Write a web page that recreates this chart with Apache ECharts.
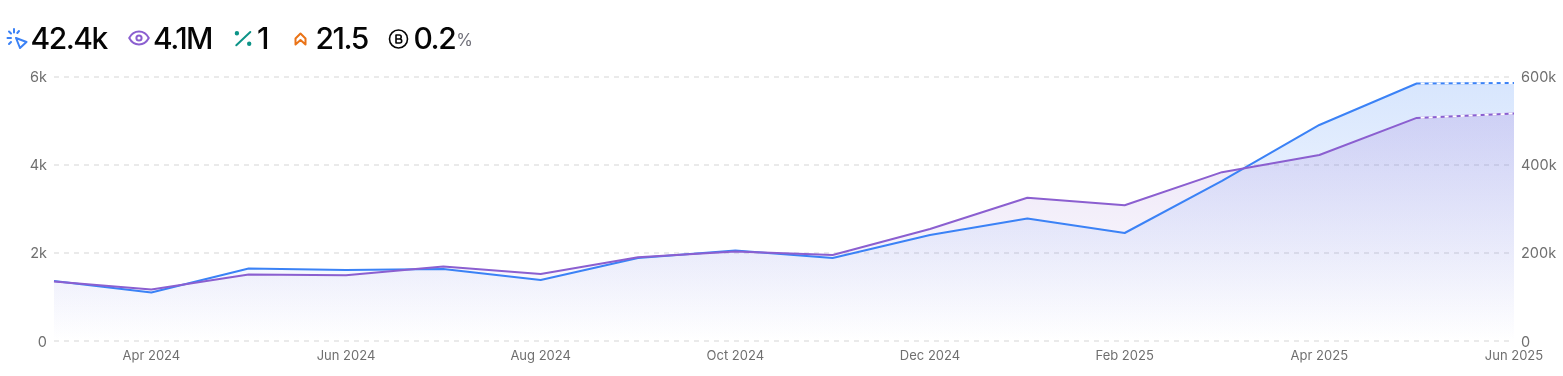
<!DOCTYPE html>
<html>
<head>
<meta charset="utf-8">
<title>Performance</title>
<script src="https://cdn.jsdelivr.net/npm/echarts@6/dist/echarts.min.js"></script>
<style>
  html, body { margin: 0; padding: 0; background: #fff; }
  #wrap { position: relative; width: 1563px; height: 376px; overflow: hidden; font-family: Inter, sans-serif; }
  #chart { position: absolute; left: 0; top: 0; width: 1563px; height: 376px; }
  .stat { position: absolute; top: 19px; height: 38px; line-height: 38px; font-size: 30px; font-weight: 500; letter-spacing: -1.5px; color: #050505; white-space: nowrap; }
  .stat small { position: relative; top: -3px; font-size: 17px; font-weight: 400; color: #71717a; letter-spacing: 0; margin-left: 1px; }
  svg.icon { position: absolute; top: 27px; width: 22px; height: 22px; fill: none; stroke-width: 2; stroke-linecap: round; stroke-linejoin: round; }
</style>
</head>
<body>
<div id="wrap">
  <div id="chart"></div>

  <svg class="icon" style="left:6px;stroke:#3b82f6" viewBox="0 0 22 22">
    <path d="M8 2v3.5M1.5 11H5M3 4.5l2 2M3 17l2-2M13 4l-1.7 2"/>
    <path d="M10 11l10.5 4-6.5 6z"/>
  </svg>
  <div class="stat" style="left:30.5px">42.4k</div>

  <svg class="icon" style="left:128px;stroke:#8b5fd0" viewBox="0 0 22 22">
    <path d="M1.2 11C3.6 6.6 7 4.6 11 4.6s7.4 2 9.8 6.4c-2.4 4.4-5.8 6.4-9.8 6.4S3.6 15.4 1.2 11z"/>
    <circle cx="11" cy="11" r="2.6"/>
  </svg>
  <div class="stat" style="left:153px">4.1M</div>

  <svg class="icon" style="left:233px;stroke:#0d9488" viewBox="0 0 22 22">
    <path d="M3.3 18.3L17.3 5"/>
    <circle cx="3.9" cy="6.3" r="1.2" fill="#0d9488"/>
    <circle cx="16.2" cy="16.8" r="1.2" fill="#0d9488"/>
  </svg>
  <div class="stat" style="left:257px">1</div>

  <svg class="icon" style="left:290px;stroke:#ea7317" viewBox="0 0 22 22">
    <path d="M5.5 17.5V11.5L10.5 6.5L15.5 11.5V17.5L10.5 13z"/>
  </svg>
  <div class="stat" style="left:315.5px">21.5</div>

  <svg class="icon" style="left:388px;stroke:#050505;stroke-width:1.6" viewBox="0 0 22 22">
    <circle cx="10.5" cy="12" r="9"/>
    <path d="M8 8h3.2a2 2 0 0 1 0 4H8zM8 12h3.7a2 2 0 0 1 0 4H8z"/>
  </svg>
  <div class="stat" style="left:413.5px">0.2<small>%</small></div>
</div>

<script>
const months = ['Mar 2024', 'Apr 2024', 'May 2024', 'Jun 2024', 'Jul 2024', 'Aug 2024', 'Sep 2024', 'Oct 2024',
  'Nov 2024', 'Dec 2024', 'Jan 2025', 'Feb 2025', 'Mar 2025', 'Apr 2025', 'May 2025', 'Jun 2025'];
// left axis
const clicks = [1361, 1100, 1645, 1610, 1633, 1384, 1883, 2053, 1883, 2405, 2779, 2450, 3630, 4900, 5841, 5853];
// right axis
const impressions = [135000, 117000, 151000, 149000, 169000, 152000, 190000, 203000, 195000, 254000, 325000, 308000, 383000, 422000, 506000, 516000];

const BLUE = '#3b82f6';
const PURPLE = '#8b5fd0';

// last month is partial: white dashes laid over the solid line
const lastSegment = vals => vals.map((v, i) => (i >= vals.length - 2 ? v : null));

function fmt(v) {
  if (v === 0) return '0';
  return v / 1000 + 'k';
}

function areaFill(r, g, b, top) {
  return new echarts.graphic.LinearGradient(0, 0, 0, 1, [
    { offset: 0, color: `rgba(${r},${g},${b},${top})` },
    { offset: 1, color: `rgba(${r},${g},${b},0)` }
  ]);
}

function mainSeries(name, data, axis, color, fill) {
  return {
    name, type: 'line', data, yAxisIndex: axis,
    symbol: 'none', smooth: false, silent: true,
    lineStyle: { color, width: 2 },
    areaStyle: { color: fill, origin: 'start', opacity: 1 }
  };
}

function dashOverlay(name, data, axis) {
  return {
    name, type: 'line', data: lastSegment(data), yAxisIndex: axis,
    symbol: 'none', silent: true,
    lineStyle: { color: '#fff', width: 2, type: [4, 4], dashOffset: 4 }
  };
}

const chart = echarts.init(document.getElementById('chart'), null, { renderer: 'canvas' });
// top align with a small line height nudges the labels just under the gridline
const yLabel = { color: '#6f6f6f', fontFamily: 'Inter', fontSize: 14.5, formatter: fmt, verticalAlign: 'top', lineHeight: 2.5 };
const split = { show: true, lineStyle: { color: '#e4e4e4', type: [5, 5], width: 1.5 } };

chart.setOption({
  animation: false,
  backgroundColor: '#fff',
  grid: { left: 54, right: 49, top: 76.5, bottom: 35 },
  xAxis: {
    type: 'category',
    data: months,
    boundaryGap: false,
    axisLine: { show: false },
    axisTick: { show: false },
    splitLine: { show: false },
    axisLabel: {
      color: '#6f6f6f', fontFamily: 'Inter', fontSize: 13, margin: 9,
      interval: (i) => i % 2 === 1,
      showMaxLabel: true,
      hideOverlap: false
    }
  },
  yAxis: [
    { type: 'value', min: 0, max: 6000, interval: 2000, axisLine: { show: false }, axisTick: { show: false }, axisLabel: { ...yLabel, margin: 7 }, splitLine: split },
    { type: 'value', min: 0, max: 600000, interval: 200000, axisLine: { show: false }, axisTick: { show: false }, axisLabel: { ...yLabel, margin: 7 }, splitLine: { show: false } }
  ],
  series: [
    mainSeries('Clicks', clicks, 0, BLUE, areaFill(59, 130, 246, 0.2)),
    mainSeries('Impressions', impressions, 1, PURPLE, areaFill(139, 95, 208, 0.18)),
    dashOverlay('Clicks partial', clicks, 0),
    dashOverlay('Impressions partial', impressions, 1)
  ]
});
</script>
</body>
</html>
